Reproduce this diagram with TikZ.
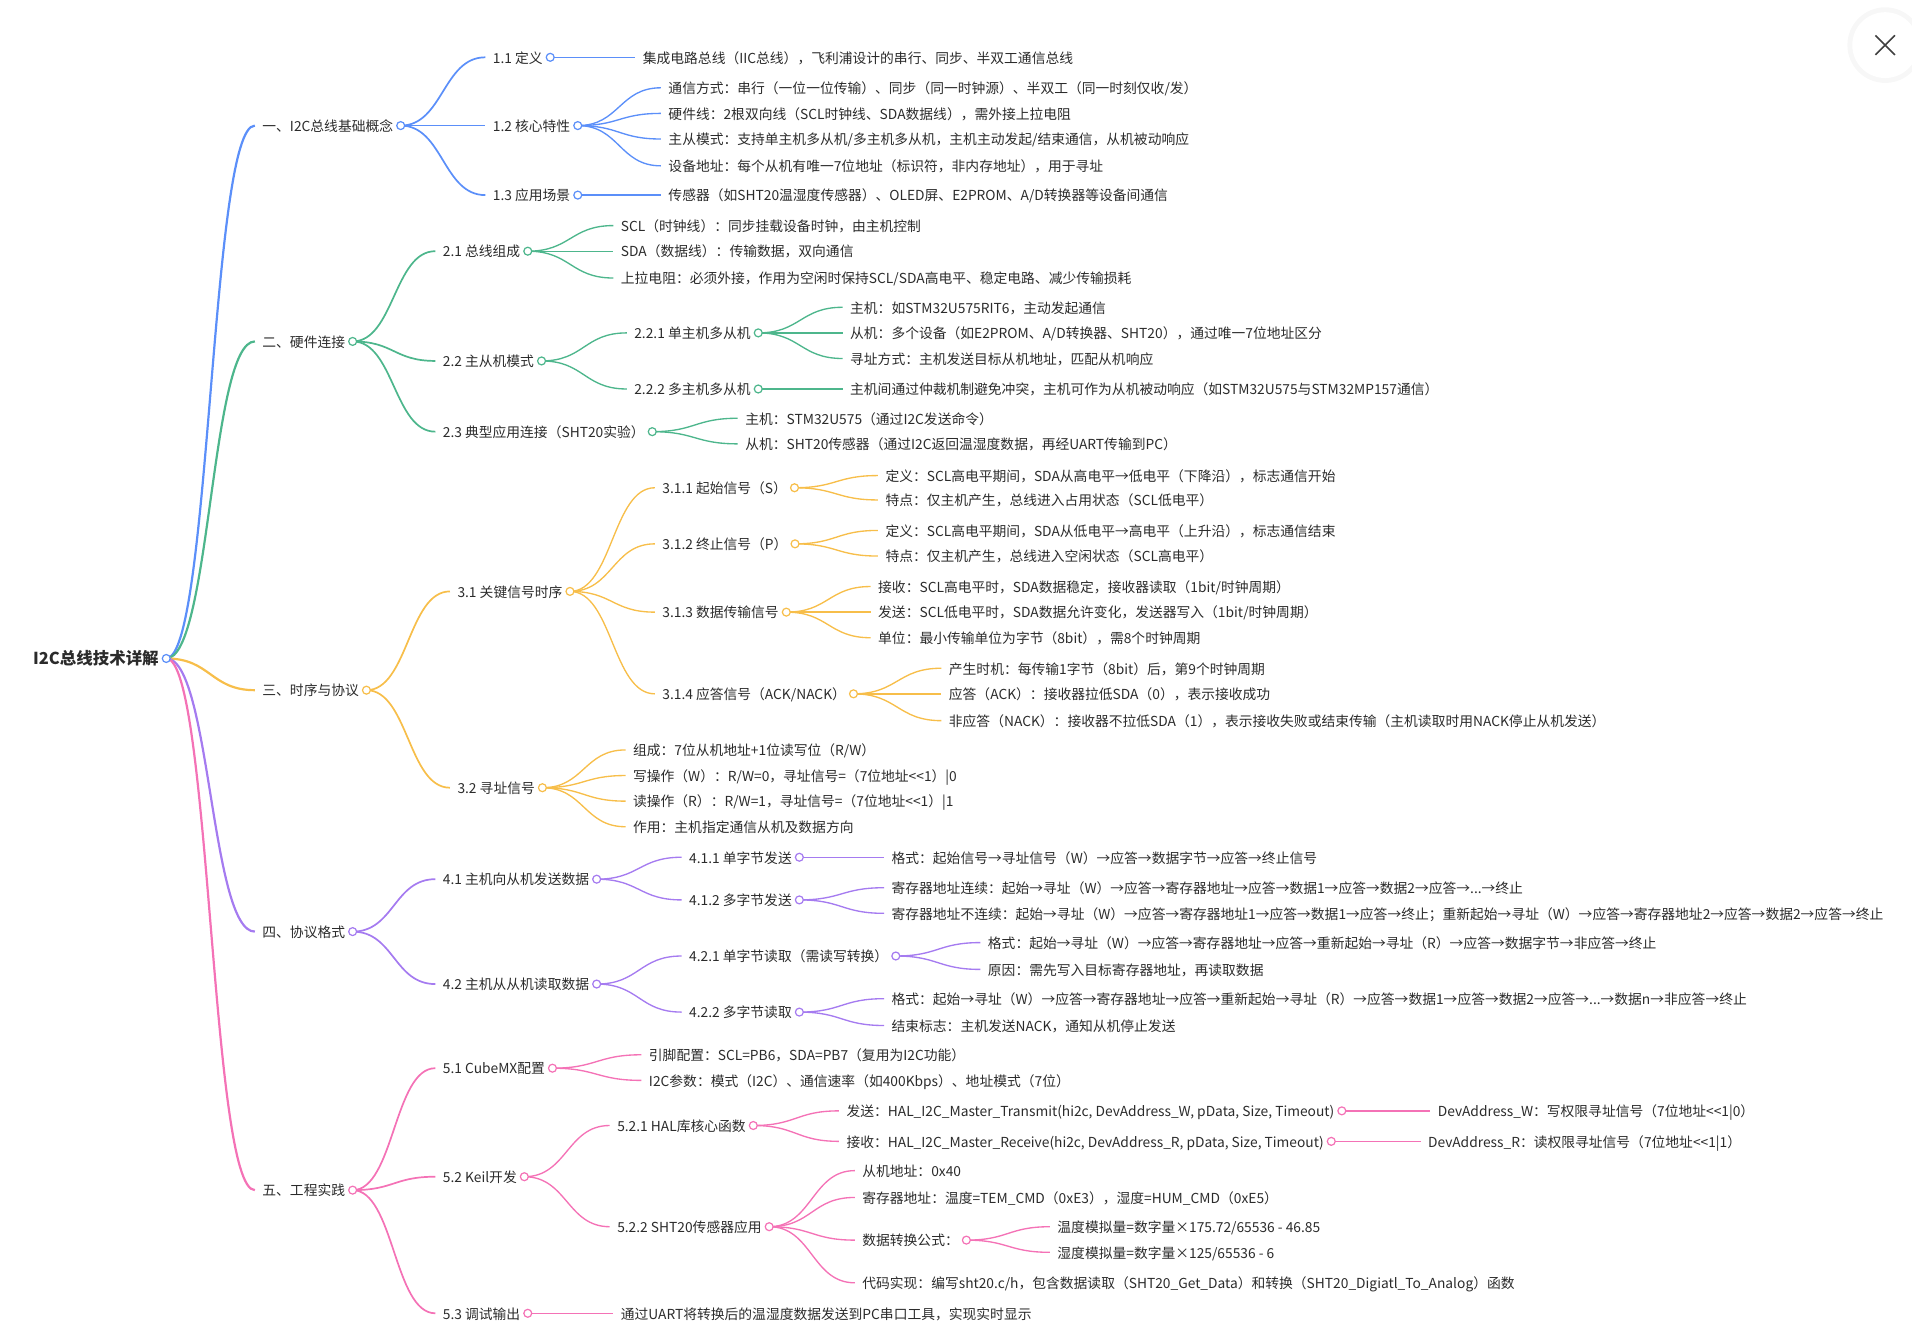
\documentclass[tikz,border=0pt]{standalone}
\usepackage{fontspec}
\setmainfont{Noto Sans CJK SC}
\usetikzlibrary{calc,positioning}
\definecolor{ink}{HTML}{2B2B2B}
\definecolor{cblue}{HTML}{5B8FF9}
\definecolor{cgreen}{HTML}{4DB68C}
\definecolor{corange}{HTML}{F7BE4A}
\definecolor{cpurple}{HTML}{A57BF0}
\definecolor{cpink}{HTML}{F472B6}

\begin{document}
\begin{tikzpicture}[
    x=1pt, y=-1pt,
    topic/.style = {anchor=west, inner xsep=6pt, inner ysep=1pt, text height=1.2em, text depth=0.25em, text=ink, font=\fontsize{11.3}{13}\selectfont},
    rootbox/.style = {topic, font=\fontsize{13.5}{15}\selectfont\bfseries},
    dot/.style = {circle, draw=#1, fill=white, inner sep=0pt, minimum size=6.5pt, line width=1pt},
    link/.style = {line width=1.1pt, to path={.. controls ($(\tikztostart)!0.5!(\tikztostart-|\tikztotarget)$) and ($(\tikztotarget)!0.5!(\tikztotarget-|\tikztostart)$) .. (\tikztotarget)}},
    trunk/.style = {link, line width=1.8pt},
    branch/.style = {link, line width=1.4pt}
]
    \useasboundingbox (0,0) rectangle (1568,1099);
    \fill[black!3] (1546,37) circle[radius=31];
    \fill[white] (1546,37) circle[radius=27];
    \draw[black!75, line width=1.3pt] (1538,29) -- (1554,45) (1554,29) -- (1538,45);

    \node[rootbox] (root) at (21,540) {I2C总线技术详解};

    \node[topic] (s1) at (209,103) {一、I2C总线基础概念};
    \node[topic] (s2) at (209,280) {二、硬件连接};
    \node[topic] (s3) at (209,566) {三、时序与协议};
    \node[topic] (s4) at (209,764) {四、协议格式};
    \node[topic] (s5) at (209,976) {五、工程实践};

    \node[topic] (s11) at (398,47) {1.1 定义};
    \node[topic] (s12) at (398,103) {1.2 核心特性};
    \node[topic] (s13) at (398,160) {1.3 应用场景};
    \node[topic] (l11) at (521,47) {集成电路总线（IIC总线），飞利浦设计的串行、同步、半双工通信总线};
    \node[topic] (l12a) at (542,72) {通信方式：串行（一位一位传输）、同步（同一时钟源）、半双工（同一时刻仅收/发）};
    \node[topic] (l12b) at (542,93) {硬件线：2根双向线（SCL时钟线、SDA数据线），需外接上拉电阻};
    \node[topic] (l12c) at (542,114) {主从模式：支持单主机多从机/多主机多从机，主机主动发起/结束通信，从机被动响应};
    \node[topic] (l12d) at (542,136) {设备地址：每个从机有唯一7位地址（标识符，非内存地址），用于寻址};
    \node[topic] (l13) at (542,160) {传感器（如SHT20温湿度传感器）、OLED屏、E2PROM、A/D转换器等设备间通信};

    \node[topic] (s21) at (357,206) {2.1 总线组成};
    \node[topic] (l21a) at (503,185) {SCL（时钟线）：同步挂载设备时钟，由主机控制};
    \node[topic] (l21b) at (503,206) {SDA（数据线）：传输数据，双向通信};
    \node[topic] (l21c) at (503,228) {上拉电阻：必须外接，作用为空闲时保持SCL/SDA高电平、稳定电路、减少传输损耗};
    \node[topic] (s22) at (357,296) {2.2 主从机模式};
    \node[topic] (s221) at (514,273) {2.2.1 单主机多从机};
    \node[topic] (l221a) at (691,252) {主机：如STM32U575RIT6，主动发起通信};
    \node[topic] (l221b) at (691,273) {从机：多个设备（如E2PROM、A/D转换器、SHT20），通过唯一7位地址区分};
    \node[topic] (l221c) at (691,294) {寻址方式：主机发送目标从机地址，匹配从机响应};
    \node[topic] (s222) at (514,319) {2.2.2 多主机多从机};
    \node[topic] (l222) at (691,319) {主机间通过仲裁机制避免冲突，主机可作为从机被动响应（如STM32U575与STM32MP157通信）};
    \node[topic] (s23) at (357,354) {2.3 典型应用连接（SHT20实验）};
    \node[topic] (l23a) at (605,343) {主机：STM32U575（通过I2C发送命令）};
    \node[topic] (l23b) at (605,364) {从机：SHT20传感器（通过I2C返回温湿度数据，再经UART传输到PC）};

    \node[topic] (s31) at (369,485) {3.1 关键信号时序};
    \node[topic] (s311) at (537,400) {3.1.1 起始信号（S）};
    \node[topic] (l311a) at (720,390) {定义：SCL高电平期间，SDA从高电平→低电平（下降沿），标志通信开始};
    \node[topic] (l311b) at (720,410) {特点：仅主机产生，总线进入占用状态（SCL低电平）};
    \node[topic] (s312) at (537,446) {3.1.2 终止信号（P）};
    \node[topic] (l312a) at (720,435) {定义：SCL高电平期间，SDA从低电平→高电平（上升沿），标志通信结束};
    \node[topic] (l312b) at (720,456) {特点：仅主机产生，总线进入空闲状态（SCL高电平）};
    \node[topic] (s313) at (537,502) {3.1.3 数据传输信号};
    \node[topic] (l313a) at (714,481) {接收：SCL高电平时，SDA数据稳定，接收器读取（1bit/时钟周期）};
    \node[topic] (l313b) at (714,502) {发送：SCL低电平时，SDA数据允许变化，发送器写入（1bit/时钟周期）};
    \node[topic] (l313c) at (714,523) {单位：最小传输单位为字节（8bit），需8个时钟周期};
    \node[topic] (s314) at (537,569) {3.1.4 应答信号（ACK/NACK）};
    \node[topic] (l314a) at (772,548) {产生时机：每传输1字节（8bit）后，第9个时钟周期};
    \node[topic] (l314b) at (772,569) {应答（ACK）：接收器拉低SDA（0），表示接收成功};
    \node[topic] (l314c) at (772,591) {非应答（NACK）：接收器不拉低SDA（1），表示接收失败或结束传输（主机读取时用NACK停止从机发送）};
    \node[topic] (s32) at (369,646) {3.2 寻址信号};
    \node[topic] (l32a) at (513,615) {组成：7位从机地址+1位读写位（R/W）};
    \node[topic] (l32b) at (513,636) {写操作（W）：R/W=0，寻址信号=（7位地址<{}<1）|0};
    \node[topic] (l32c) at (513,657) {读操作（R）：R/W=1，寻址信号=（7位地址<{}<1）|1};
    \node[topic] (l32d) at (513,678) {作用：主机指定通信从机及数据方向};

    \node[topic] (s41) at (357,721) {4.1 主机向从机发送数据};
    \node[topic] (s411) at (559,703) {4.1.1 单字节发送};
    \node[topic] (l411) at (725,703) {格式：起始信号→寻址信号（W）→应答→数据字节→应答→终止信号};
    \node[topic] (s412) at (559,738) {4.1.2 多字节发送};
    \node[topic] (l412a) at (725,728) {寄存器地址连续：起始→寻址（W）→应答→寄存器地址→应答→数据1→应答→数据2→应答→...→终止};
    \node[topic] (l412b) at (725,749) {寄存器地址不连续：起始→寻址（W）→应答→寄存器地址1→应答→数据1→应答→终止；重新起始→寻址（W）→应答→寄存器地址2→应答→数据2→应答→终止};
    \node[topic] (s42) at (357,807) {4.2 主机从从机读取数据};
    \node[topic] (s421) at (559,784) {4.2.1 单字节读取（需读写转换）};
    \node[topic] (l421a) at (804,773) {格式：起始→寻址（W）→应答→寄存器地址→应答→重新起始→寻址（R）→应答→数据字节→非应答→终止};
    \node[topic] (l421b) at (804,795) {原因：需先写入目标寄存器地址，再读取数据};
    \node[topic] (s422) at (559,830) {4.2.2 多字节读取};
    \node[topic] (l422a) at (725,819) {格式：起始→寻址（W）→应答→寄存器地址→应答→重新起始→寻址（R）→应答→数据1→应答→数据2→应答→...→数据n→非应答→终止};
    \node[topic] (l422b) at (725,841) {结束标志：主机发送NACK，通知从机停止发送};

    \node[topic] (s51) at (357,876) {5.1 CubeMX配置};
    \node[topic] (l51a) at (526,865) {引脚配置：SCL=PB6，SDA=PB7（复用为I2C功能）};
    \node[topic] (l51b) at (526,886) {I2C参数：模式（I2C）、通信速率（如400Kbps）、地址模式（7位）};
    \node[topic] (s52) at (357,965) {5.2 Keil开发};
    \node[topic] (s521) at (500,923) {5.2.1 HAL库核心函数};
    \node[topic] (f521a) at (688,911) {发送：HAL\_I2C\_Master\_Transmit(hi2c, DevAddress\_W, pData, Size, Timeout)};
    \node[topic] (l521a) at (1173,911) {DevAddress\_W：写权限寻址信号（7位地址<{}<1|0）};
    \node[topic] (f521b) at (688,936) {接收：HAL\_I2C\_Master\_Receive(hi2c, DevAddress\_R, pData, Size, Timeout)};
    \node[topic] (l521b) at (1165,936) {DevAddress\_R：读权限寻址信号（7位地址<{}<1|1）};
    \node[topic] (s522) at (500,1006) {5.2.2 SHT20传感器应用};
    \node[topic] (l522a) at (701,960) {从机地址：0x40};
    \node[topic] (l522b) at (701,982) {寄存器地址：温度=TEM\_CMD（0xE3），湿度=HUM\_CMD（0xE5）};
    \node[topic] (f522) at (701,1017) {数据转换公式：};
    \node[topic] (l522c) at (861,1006) {温度模拟量=数字量×175.72/65536 - 46.85};
    \node[topic] (l522d) at (861,1027) {湿度模拟量=数字量×125/65536 - 6};
    \node[topic] (l522e) at (701,1052) {代码实现：编写sht20.c/h，包含数据读取（SHT20\_Get\_Data）和转换（SHT20\_Digiatl\_To\_Analog）函数};
    \node[topic] (s53) at (357,1077) {5.3 调试输出};
    \node[topic] (l53) at (503,1077) {通过UART将转换后的温湿度数据发送到PC串口工具，实现实时显示};

    \draw[trunk, cblue] (root.east) to (s1.west);
    \draw[trunk, cgreen] (root.east) to (s2.west);
    \draw[trunk, corange] (root.east) to (s3.west);
    \draw[trunk, cpurple] (root.east) to (s4.west);
    \draw[trunk, cpink] (root.east) to (s5.west);

    \draw[branch, cblue] (s1.east) to (s11.west);
    \draw[branch, cblue] (s1.east) to (s12.west);
    \draw[branch, cblue] (s1.east) to (s13.west);
    \draw[link, cblue] (s11.east) to (l11.west);
    \draw[link, cblue] (s12.east) to (l12a.west);
    \draw[link, cblue] (s12.east) to (l12b.west);
    \draw[link, cblue] (s12.east) to (l12c.west);
    \draw[link, cblue] (s12.east) to (l12d.west);
    \draw[link, cblue] (s13.east) to (l13.west);

    \draw[branch, cgreen] (s2.east) to (s21.west);
    \draw[branch, cgreen] (s2.east) to (s22.west);
    \draw[branch, cgreen] (s2.east) to (s23.west);
    \draw[link, cgreen] (s21.east) to (l21a.west);
    \draw[link, cgreen] (s21.east) to (l21b.west);
    \draw[link, cgreen] (s21.east) to (l21c.west);
    \draw[link, cgreen] (s22.east) to (s221.west);
    \draw[link, cgreen] (s22.east) to (s222.west);
    \draw[link, cgreen] (s221.east) to (l221a.west);
    \draw[link, cgreen] (s221.east) to (l221b.west);
    \draw[link, cgreen] (s221.east) to (l221c.west);
    \draw[link, cgreen] (s222.east) to (l222.west);
    \draw[link, cgreen] (s23.east) to (l23a.west);
    \draw[link, cgreen] (s23.east) to (l23b.west);

    \draw[branch, corange] (s3.east) to (s31.west);
    \draw[branch, corange] (s3.east) to (s32.west);
    \draw[link, corange] (s31.east) to (s311.west);
    \draw[link, corange] (s31.east) to (s312.west);
    \draw[link, corange] (s31.east) to (s313.west);
    \draw[link, corange] (s31.east) to (s314.west);
    \draw[link, corange] (s311.east) to (l311a.west);
    \draw[link, corange] (s311.east) to (l311b.west);
    \draw[link, corange] (s312.east) to (l312a.west);
    \draw[link, corange] (s312.east) to (l312b.west);
    \draw[link, corange] (s313.east) to (l313a.west);
    \draw[link, corange] (s313.east) to (l313b.west);
    \draw[link, corange] (s313.east) to (l313c.west);
    \draw[link, corange] (s314.east) to (l314a.west);
    \draw[link, corange] (s314.east) to (l314b.west);
    \draw[link, corange] (s314.east) to (l314c.west);
    \draw[link, corange] (s32.east) to (l32a.west);
    \draw[link, corange] (s32.east) to (l32b.west);
    \draw[link, corange] (s32.east) to (l32c.west);
    \draw[link, corange] (s32.east) to (l32d.west);

    \draw[branch, cpurple] (s4.east) to (s41.west);
    \draw[branch, cpurple] (s4.east) to (s42.west);
    \draw[link, cpurple] (s41.east) to (s411.west);
    \draw[link, cpurple] (s41.east) to (s412.west);
    \draw[link, cpurple] (s411.east) to (l411.west);
    \draw[link, cpurple] (s412.east) to (l412a.west);
    \draw[link, cpurple] (s412.east) to (l412b.west);
    \draw[link, cpurple] (s42.east) to (s421.west);
    \draw[link, cpurple] (s42.east) to (s422.west);
    \draw[link, cpurple] (s421.east) to (l421a.west);
    \draw[link, cpurple] (s421.east) to (l421b.west);
    \draw[link, cpurple] (s422.east) to (l422a.west);
    \draw[link, cpurple] (s422.east) to (l422b.west);

    \draw[branch, cpink] (s5.east) to (s51.west);
    \draw[branch, cpink] (s5.east) to (s52.west);
    \draw[branch, cpink] (s5.east) to (s53.west);
    \draw[link, cpink] (s51.east) to (l51a.west);
    \draw[link, cpink] (s51.east) to (l51b.west);
    \draw[link, cpink] (s52.east) to (s521.west);
    \draw[link, cpink] (s52.east) to (s522.west);
    \draw[link, cpink] (s521.east) to (f521a.west);
    \draw[link, cpink] (s521.east) to (f521b.west);
    \draw[link, cpink] (f521a.east) to (l521a.west);
    \draw[link, cpink] (f521b.east) to (l521b.west);
    \draw[link, cpink] (s522.east) to (l522a.west);
    \draw[link, cpink] (s522.east) to (l522b.west);
    \draw[link, cpink] (s522.east) to (f522.west);
    \draw[link, cpink] (s522.east) to (l522e.west);
    \draw[link, cpink] (f522.east) to (l522c.west);
    \draw[link, cpink] (f522.east) to (l522d.west);
    \draw[link, cpink] (s53.east) to (l53.west);

    \node[dot=cblue] (rootc) at (root.east) {};
    \node[dot=cblue] (s1c) at (s1.east) {};
    \node[dot=cgreen] (s2c) at (s2.east) {};
    \node[dot=corange] (s3c) at (s3.east) {};
    \node[dot=cpurple] (s4c) at (s4.east) {};
    \node[dot=cpink] (s5c) at (s5.east) {};
    \node[dot=cblue] (s11c) at (s11.east) {};
    \node[dot=cblue] (s12c) at (s12.east) {};
    \node[dot=cblue] (s13c) at (s13.east) {};
    \node[dot=cgreen] (s21c) at (s21.east) {};
    \node[dot=cgreen] (s22c) at (s22.east) {};
    \node[dot=cgreen] (s221c) at (s221.east) {};
    \node[dot=cgreen] (s222c) at (s222.east) {};
    \node[dot=cgreen] (s23c) at (s23.east) {};
    \node[dot=corange] (s31c) at (s31.east) {};
    \node[dot=corange] (s311c) at (s311.east) {};
    \node[dot=corange] (s312c) at (s312.east) {};
    \node[dot=corange] (s313c) at (s313.east) {};
    \node[dot=corange] (s314c) at (s314.east) {};
    \node[dot=corange] (s32c) at (s32.east) {};
    \node[dot=cpurple] (s41c) at (s41.east) {};
    \node[dot=cpurple] (s411c) at (s411.east) {};
    \node[dot=cpurple] (s412c) at (s412.east) {};
    \node[dot=cpurple] (s42c) at (s42.east) {};
    \node[dot=cpurple] (s421c) at (s421.east) {};
    \node[dot=cpurple] (s422c) at (s422.east) {};
    \node[dot=cpink] (s51c) at (s51.east) {};
    \node[dot=cpink] (s52c) at (s52.east) {};
    \node[dot=cpink] (s521c) at (s521.east) {};
    \node[dot=cpink] (f521ac) at (f521a.east) {};
    \node[dot=cpink] (f521bc) at (f521b.east) {};
    \node[dot=cpink] (s522c) at (s522.east) {};
    \node[dot=cpink] (f522c) at (f522.east) {};
    \node[dot=cpink] (s53c) at (s53.east) {};
\end{tikzpicture}
\end{document}
